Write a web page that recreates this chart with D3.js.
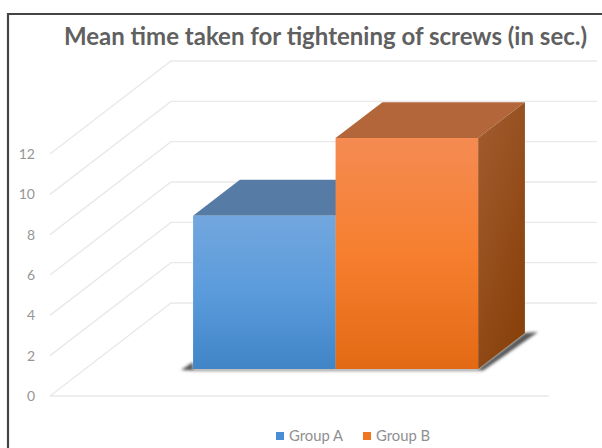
<!DOCTYPE html>
<html>
<head>
<meta charset="utf-8">
<script src="https://cdn.jsdelivr.net/npm/d3@7/dist/d3.min.js"></script>
<style>
  html, body { margin: 0; padding: 0; background: #fff; }
  svg { display: block; }
  text { font-family: Lato, sans-serif; }
</style>
</head>
<body>
<svg id="chart" width="602" height="448"></svg>
<script>
// Chart content
const titleText = "Mean time taken for tightening of screws (in sec.)";
const groups = ["Group A", "Group B"];
const meanTimes = [7.6, 11.45];
const tickValues = [0, 2, 4, 6, 8, 10, 12];
const frontColors = [["#72a7de", "#5b9bdc", "#4085c6"], ["#f58b52", "#f67f2f", "#e36a14"]];
const topColors = ["#567ca5", "#b3663a"];
const sideColors = [["#3f6a96", "#2f5a85"], ["#a35c30", "#89420c"]];
const legendColors = ["#4a8fd6", "#f0761f"];

const svg = d3.select("#chart");
const defs = svg.append("defs");

// Oblique projection: value sets height, depth runs from the front (0) to the back wall (1)
const yScale = d3.scaleLinear().domain([0, 12]).range([396, 154]);
const floorX = d3.scaleLinear().domain([0, 1]).range([50, 549]);
const depthDx = d3.scaleLinear().domain([0, 1]).range([0, 121]);
const depthDy = d3.scaleLinear().domain([0, 1]).range([0, -93]);
const groupBand = d3.scaleBand().domain(groups).range([0.2164, 0.7876]);
const barDepth = [0.29, 0.677];

const project = (fx, value, depth) => [
  floorX(fx) + depthDx(depth),
  yScale(value) + depthDy(depth)
];
const line = d3.line();

// Chart frame
svg.append("path")
  .attr("d", "M8,448V14H602")
  .attr("fill", "none")
  .attr("stroke", "#454545")
  .attr("stroke-width", 2.2);

// Title
svg.append("text")
  .attr("x", 325.5).attr("y", 45)
  .attr("text-anchor", "middle")
  .attr("font-size", 24)
  .attr("font-weight", 700)
  .attr("fill", "#606060")
  .text(titleText);

// Gridlines: side wall then back wall, plus the front edge of the floor
const grid = svg.append("g")
  .attr("fill", "none")
  .attr("stroke", "#e9e9e9")
  .attr("stroke-width", 1.4);
tickValues.forEach(v => {
  grid.append("path").attr("d", line([
    project(0, v, 0),
    project(0, v, 1),
    [597, project(0, v, 1)[1]]
  ]));
});
grid.append("path").attr("d", line([project(0, 0, 0), project(1, 0, 0)]));

// Value axis labels
const axis = svg.append("g")
  .attr("transform", "translate(35,0)")
  .call(d3.axisLeft(yScale).tickValues(tickValues).tickSize(0).tickPadding(0));
axis.select(".domain").remove();
axis.selectAll("text")
  .attr("font-size", 14)
  .attr("font-family", "Lato, sans-serif")
  .attr("fill", "#969696");

// Contact shadow on the floor
defs.append("filter").attr("id", "soft")
  .attr("x", "-10%").attr("y", "-10%").attr("width", "120%").attr("height", "120%")
  .append("feGaussianBlur").attr("stdDeviation", 1.6);

const x0 = groupBand(groups[0]);
const x1 = groupBand(groups[1]) + groupBand.bandwidth();
const fl = project(x0, 0, barDepth[0]);
const fr = project(x1, 0, barDepth[0]);
const br = project(x1, 0, barDepth[1]);
svg.append("path")
  .attr("d", line([
    [fl[0] - 12, fl[1] + 1], [fl[0], fl[1] - 7], fl, fr,
    br, [br[0] + 13, br[1] - 1], [fr[0] + 5, fr[1] + 1.5], [fl[0], fl[1] + 1.5]
  ]) + "Z")
  .attr("fill", "#555555")
  .attr("filter", "url(#soft)");

// Bars: one box per group
groups.forEach((g, i) => {
  const left = groupBand(g);
  const right = left + groupBand.bandwidth();
  const v = meanTimes[i];
  const [dF, dB] = barDepth;

  const front = defs.append("linearGradient").attr("id", `front${i}`)
    .attr("x1", 0).attr("y1", 0).attr("x2", 0).attr("y2", 1);
  frontColors[i].forEach((c, k) => front.append("stop")
    .attr("offset", k / 2).attr("stop-color", c));

  const side = defs.append("linearGradient").attr("id", `side${i}`)
    .attr("x1", 0).attr("y1", 0).attr("x2", 0.6).attr("y2", 1);
  sideColors[i].forEach((c, k) => side.append("stop")
    .attr("offset", k).attr("stop-color", c));

  const bar = svg.append("g").datum(g);
  bar.append("path")
    .attr("d", line([project(left, v, dF), project(right, v, dF), project(right, v, dB), project(left, v, dB)]) + "Z")
    .attr("fill", topColors[i]);
  bar.append("path")
    .attr("d", line([project(right, 0, dF), project(right, v, dF), project(right, v, dB), project(right, 0, dB)]) + "Z")
    .attr("fill", `url(#side${i})`);
  bar.append("path")
    .attr("d", line([project(left, 0, dF), project(left, v, dF), project(right, v, dF), project(right, 0, dF)]) + "Z")
    .attr("fill", `url(#front${i})`);
});

// Legend
const legendX = [276, 363];
const legend = svg.append("g");
groups.forEach((g, i) => {
  legend.append("rect")
    .attr("x", legendX[i]).attr("y", 432)
    .attr("width", 8).attr("height", 8)
    .attr("fill", legendColors[i]);
  legend.append("text")
    .attr("x", legendX[i] + 13).attr("y", 441)
    .attr("font-size", 14.8)
    .attr("fill", "#8f8f8f")
    .text(g);
});
</script>
</body>
</html>
